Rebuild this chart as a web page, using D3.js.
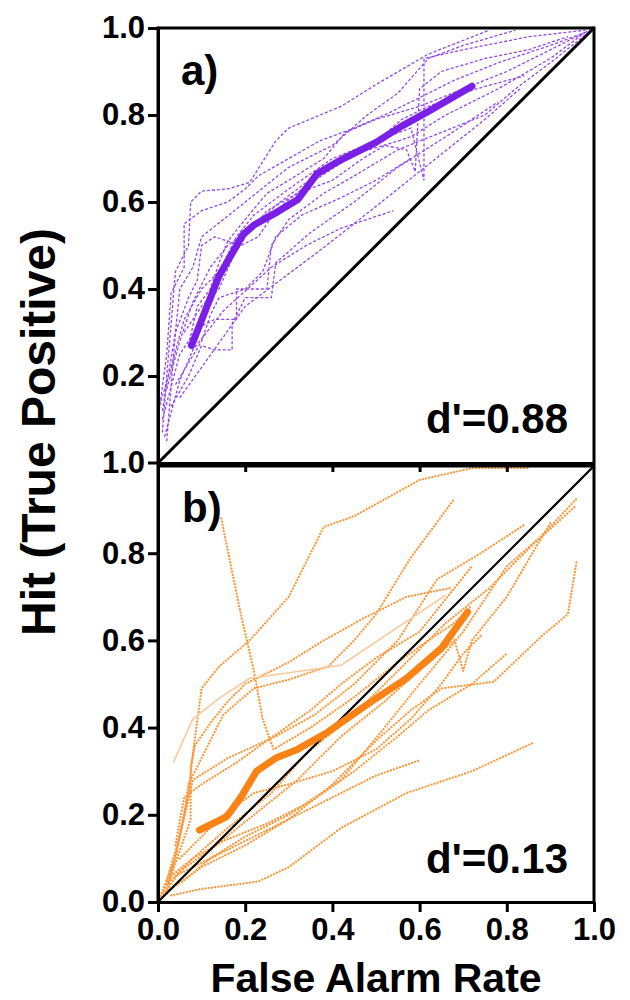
<!DOCTYPE html>
<html><head><meta charset="utf-8">
<script src="https://cdn.jsdelivr.net/npm/d3@7/dist/d3.min.js"></script>
<style>html,body{margin:0;padding:0;background:#fff;}svg{display:block;}</style>
</head><body>
<svg id="c" width="630" height="1000"></svg>
<script>
// ---------- DATA ----------
const xTicks = [0, 0.2, 0.4, 0.6, 0.8, 1.0];
const yTicksA = [0.2, 0.4, 0.6, 0.8, 1.0];
const yTicksB = [0, 0.2, 0.4, 0.6, 0.8, 1.0];
const panelLabels = ["a)", "b)"];
const dPrimeLabels = ["d'=0.88", "d'=0.13"];

const meanA = [[0.077,0.27],[0.14,0.43],[0.195,0.525],[0.22,0.547],[0.27,0.575],[0.32,0.605],[0.365,0.665],[0.42,0.697],[0.5,0.737],[0.56,0.775],[0.62,0.808],[0.72,0.866]];
const meanB = [[0.095,0.165],[0.158,0.196],[0.19,0.24],[0.226,0.3],[0.27,0.33],[0.32,0.35],[0.39,0.39],[0.49,0.46],[0.57,0.513],[0.65,0.582],[0.71,0.665]];

const curvesA = [
  [[0.01,0.07],[0.02,0.2],[0.04,0.44],[0.07,0.5],[0.075,0.6],[0.1,0.625],[0.16,0.63],[0.21,0.645],[0.27,0.74],[0.3,0.77],[0.42,0.82],[0.5,0.87],[0.62,0.94],[0.76,0.995]],
  [[0.02,0.05],[0.04,0.3],[0.05,0.4],[0.08,0.45],[0.1,0.52],[0.15,0.56],[0.2,0.6],[0.3,0.68],[0.4,0.73],[0.48,0.8],[0.55,0.85],[0.62,0.93],[0.7,0.96],[0.82,0.995]],
  [[0.015,0.06],[0.05,0.19],[0.08,0.26],[0.15,0.35],[0.26,0.45],[0.34,0.5],[0.42,0.54],[0.54,0.58]],
  [[0.0,0.12],[0.03,0.22],[0.06,0.33],[0.1,0.4],[0.14,0.44],[0.18,0.52],[0.22,0.57],[0.3,0.63],[0.4,0.7],[0.5,0.74],[0.58,0.77],[0.61,0.65],[0.61,0.93],[0.7,0.95],[0.85,0.98],[0.98,0.995]],
  [[0.01,0.1],[0.05,0.25],[0.09,0.31],[0.13,0.33],[0.18,0.33],[0.18,0.4],[0.25,0.4],[0.26,0.5],[0.3,0.56],[0.38,0.62],[0.45,0.66],[0.55,0.72],[0.65,0.76],[0.75,0.8],[0.82,0.86],[0.9,0.92],[1,1]],
  [[0.02,0.17],[0.05,0.28],[0.08,0.37],[0.12,0.45],[0.16,0.5],[0.2,0.53],[0.28,0.6],[0.36,0.66],[0.45,0.71],[0.55,0.74],[0.58,0.75],[0.66,0.8],[0.78,0.86],[0.9,0.93],[0.98,0.99]],
  [[0.05,0.15],[0.1,0.22],[0.15,0.29],[0.2,0.36],[0.28,0.42],[0.36,0.48],[0.45,0.55],[0.55,0.63],[0.65,0.71],[0.75,0.79],[0.83,0.86]],
  [[0.03,0.13],[0.07,0.2],[0.1,0.27],[0.13,0.26],[0.17,0.26],[0.17,0.32],[0.2,0.38],[0.26,0.38],[0.27,0.46],[0.35,0.53],[0.45,0.6],[0.55,0.68],[0.66,0.75],[0.78,0.83]],
  [[0.0,0.1],[0.02,0.25],[0.03,0.39],[0.06,0.45],[0.06,0.55],[0.1,0.58],[0.16,0.6],[0.2,0.63],[0.23,0.66],[0.3,0.7],[0.37,0.74],[0.45,0.77],[0.52,0.8],[0.6,0.84],[0.68,0.88],[0.78,0.92],[0.9,0.96],[0.98,0.99]],
  [[0.06,0.3],[0.1,0.36],[0.14,0.4],[0.17,0.47],[0.2,0.52],[0.25,0.58],[0.32,0.62],[0.4,0.65],[0.47,0.7],[0.52,0.73],[0.57,0.72],[0.59,0.67],[0.6,0.86],[0.65,0.9],[0.75,0.93],[0.85,0.95],[0.94,0.98]],
  [[0.07,0.27],[0.09,0.36],[0.12,0.4],[0.14,0.46],[0.16,0.51],[0.2,0.56],[0.25,0.62],[0.3,0.65],[0.38,0.7],[0.43,0.76],[0.5,0.79],[0.6,0.82],[0.7,0.86],[0.8,0.9],[0.92,0.96],[1,1]],
  [[0.04,0.18],[0.07,0.23],[0.1,0.28],[0.12,0.34],[0.14,0.38],[0.2,0.4],[0.24,0.44],[0.27,0.52],[0.33,0.57],[0.42,0.61],[0.5,0.65],[0.58,0.7]],
  [[0.01,0.12],[0.04,0.3],[0.07,0.38],[0.09,0.42],[0.1,0.5],[0.13,0.52],[0.19,0.5],[0.23,0.52],[0.27,0.58],[0.33,0.63],[0.42,0.69],[0.5,0.74],[0.56,0.79],[0.62,0.82],[0.73,0.86],[0.84,0.89]]
];

const curvesB = [
  [[0.0,0.0],[0.04,0.1],[0.07,0.25],[0.08,0.34],[0.1,0.49],[0.14,0.54],[0.21,0.6],[0.3,0.7],[0.38,0.86],[0.45,0.885],[0.6,0.968],[0.72,0.995],[0.85,0.995]],
  [[0.145,0.88],[0.19,0.66],[0.22,0.53],[0.24,0.42],[0.265,0.35],[0.35,0.4],[0.45,0.47],[0.55,0.55],[0.62,0.6],[0.68,0.64],[0.72,0.68]],
  [[0.02,0.02],[0.06,0.2],[0.07,0.27],[0.1,0.33],[0.15,0.43],[0.22,0.49],[0.3,0.51],[0.39,0.54],[0.45,0.6],[0.5,0.66],[0.58,0.79],[0.68,0.925]],
  [[0.02,0.05],[0.05,0.15],[0.08,0.28],[0.16,0.33],[0.27,0.38],[0.36,0.43],[0.45,0.5],[0.55,0.6],[0.64,0.74],[0.74,0.8],[0.84,0.865]],
  [[0.01,0.02],[0.06,0.05],[0.12,0.1],[0.2,0.15],[0.3,0.2],[0.42,0.28],[0.52,0.4],[0.6,0.5],[0.7,0.62],[0.8,0.77],[0.88,0.84],[0.96,0.925]],
  [[0.03,0.03],[0.1,0.08],[0.2,0.13],[0.3,0.19],[0.4,0.27],[0.5,0.37],[0.58,0.44],[0.65,0.49],[0.77,0.505],[0.88,0.61],[0.94,0.66],[0.96,0.78]],
  [[0.03,0.015],[0.1,0.03],[0.23,0.047],[0.3,0.08],[0.42,0.17],[0.57,0.25],[0.72,0.3],[0.86,0.365]],
  [[0.02,0.04],[0.08,0.1],[0.15,0.14],[0.25,0.18],[0.35,0.23],[0.45,0.3],[0.55,0.38],[0.62,0.44],[0.72,0.5],[0.8,0.57]],
  [[0.04,0.06],[0.1,0.09],[0.2,0.14],[0.3,0.19],[0.4,0.24],[0.5,0.29],[0.6,0.325]],
  [[0.0,0.0],[0.05,0.07],[0.12,0.12],[0.22,0.2],[0.32,0.28],[0.42,0.38],[0.52,0.46],[0.62,0.55],[0.68,0.6],[0.7,0.53],[0.72,0.6],[0.8,0.7],[0.9,0.87]],
  [[0.03,0.06],[0.08,0.1],[0.16,0.17],[0.26,0.25],[0.34,0.34],[0.46,0.44],[0.56,0.54],[0.66,0.64],[0.76,0.72],[0.86,0.82],[0.96,0.91]],
  [[0.04,0.13],[0.06,0.24],[0.1,0.27],[0.18,0.32],[0.25,0.37],[0.35,0.44],[0.42,0.5],[0.5,0.56],[0.6,0.62],[0.72,0.77]],
  [[0.0,0.0],[0.03,0.06],[0.075,0.19],[0.075,0.31],[0.085,0.36],[0.12,0.41],[0.16,0.46],[0.2,0.5],[0.3,0.55],[0.38,0.6],[0.47,0.65],[0.57,0.7],[0.67,0.72]],
  [[0.05,0.1],[0.1,0.15],[0.15,0.2],[0.22,0.25],[0.3,0.27],[0.4,0.3],[0.5,0.35],[0.58,0.42],[0.65,0.5],[0.7,0.57],[0.74,0.61]]
];
const faintB = [[0.035,0.32],[0.08,0.42],[0.14,0.467],[0.21,0.513],[0.42,0.543],[0.66,0.704]];
const diagonal = [[0,0],[1,1]];

// ---------- DRAW ----------
const svg = d3.select("#c");
const FONT = "'Liberation Sans', Arial, Helvetica, sans-serif";
const x = d3.scaleLinear().domain([0,1]).range([158,594]);
const yA = d3.scaleLinear().domain([0,1]).range([463,28]);
const yB = d3.scaleLinear().domain([0,1]).range([902,466]);

function drawPanel(y, curves, mean, opts) {
  const g = svg.append("g");
  const line = d3.line().x(d=>x(d[0])).y(d=>y(d[1]));
  g.selectAll("path.ind").data(curves).join("path")
    .attr("class","ind").attr("d", line).attr("fill","none")
    .attr("stroke", opts.thin).attr("stroke-width", opts.thinW)
    .attr("stroke-dasharray", opts.dash).attr("stroke-linecap", opts.cap);
  if (opts.faint) {
    g.append("path").attr("d", line(opts.faint)).attr("fill","none")
      .attr("stroke","#f9c99c").attr("stroke-width",1.6);
  }
  g.append("path").attr("d", line(diagonal)).attr("fill","none")
    .attr("stroke","#000").attr("stroke-width", opts.diagW);
  g.append("path").attr("d", line(mean)).attr("fill","none")
    .attr("stroke", opts.thick).attr("stroke-width", 7)
    .attr("stroke-linecap","round").attr("stroke-linejoin","round");
  return g;
}

drawPanel(yA, curvesA, meanA, {thin:"#9146f2", thinW:1.3, dash:"3,2", cap:"butt", thick:"#7a1fe6", diagW:3});
drawPanel(yB, curvesB, meanB, {thin:"#ff9535", thinW:2.2, dash:"0.1,3.1", cap:"round", thick:"#fb8214", diagW:2.2, faint: faintB});

// Box borders
const axisW = 3;
svg.append("line").attr("x1",x(0)).attr("x2",x(1)).attr("y1",yA(1)).attr("y2",yA(1)).attr("stroke","#000").attr("stroke-width",axisW);
svg.append("line").attr("x1",x(1)).attr("x2",x(1)).attr("y1",yA(1)-1.5).attr("y2",yB(0)).attr("stroke","#000").attr("stroke-width",axisW);
svg.append("line").attr("x1",x(0)).attr("x2",x(1)).attr("y1",yB(1)).attr("y2",yB(1)).attr("stroke","#000").attr("stroke-width",axisW);

function styleAxis(g, fs) {
  g.select(".domain").attr("stroke-width", axisW);
  g.selectAll(".tick line").attr("stroke-width", 3);
  g.selectAll(".tick text").attr("font-family", FONT).attr("font-weight","bold")
    .attr("font-size", fs).attr("fill","#000");
}
// Left axes
const gLA = svg.append("g").attr("transform",`translate(${x(0)},0)`)
  .call(d3.axisLeft(yA).tickValues(yTicksA).tickFormat(d3.format(".1f")).tickSize(10).tickSizeOuter(0).tickPadding(3));
styleAxis(gLA, 31);
const gLB = svg.append("g").attr("transform",`translate(${x(0)},0)`)
  .call(d3.axisLeft(yB).tickValues(yTicksB).tickFormat(d3.format(".1f")).tickSize(10).tickSizeOuter(0).tickPadding(3));
styleAxis(gLB, 31);
gLB.selectAll(".tick").filter(d=>d===1).attr("transform",`translate(0,${yA(0)})`);
svg.append("line").attr("x1",x(0)).attr("x2",x(0)).attr("y1",yA(1)-1.5).attr("y2",yB(0)+1.5).attr("stroke","#000").attr("stroke-width",axisW);

// Bottom axis of panel a (ticks only)
const gXA = svg.append("g").attr("transform",`translate(0,${yA(0)})`)
  .call(d3.axisBottom(x).tickValues(xTicks.slice(1,5)).tickFormat("").tickSize(9).tickSizeOuter(0));
styleAxis(gXA, 31);
// Bottom axis of panel b
const gXB = svg.append("g").attr("transform",`translate(0,${yB(0)})`)
  .call(d3.axisBottom(x).tickValues(xTicks).tickFormat(d3.format(".1f")).tickSize(10).tickSizeOuter(0).tickPadding(6));
styleAxis(gXB, 31);

// Panel labels
svg.append("text").attr("x",181).attr("y",85).text(panelLabels[0])
  .attr("font-family",FONT).attr("font-weight","bold").attr("font-size",42);
svg.append("text").attr("x",182).attr("y",522).text(panelLabels[1])
  .attr("font-family",FONT).attr("font-weight","bold").attr("font-size",42);
svg.append("text").attr("x",568).attr("y",433).attr("text-anchor","end").text(dPrimeLabels[0])
  .attr("font-family",FONT).attr("font-weight","bold").attr("font-size",42);
svg.append("text").attr("x",568).attr("y",873).attr("text-anchor","end").text(dPrimeLabels[1])
  .attr("font-family",FONT).attr("font-weight","bold").attr("font-size",42);

// Axis titles
svg.append("text").attr("x",376).attr("y",992).attr("text-anchor","middle").text("False Alarm Rate")
  .attr("font-family",FONT).attr("font-weight","bold").attr("font-size",41);
svg.append("text").attr("transform","translate(55,432) rotate(-90)").attr("text-anchor","middle")
  .text("Hit (True Positive)")
  .attr("font-family",FONT).attr("font-weight","bold").attr("font-size",48);
</script>
</body></html>
